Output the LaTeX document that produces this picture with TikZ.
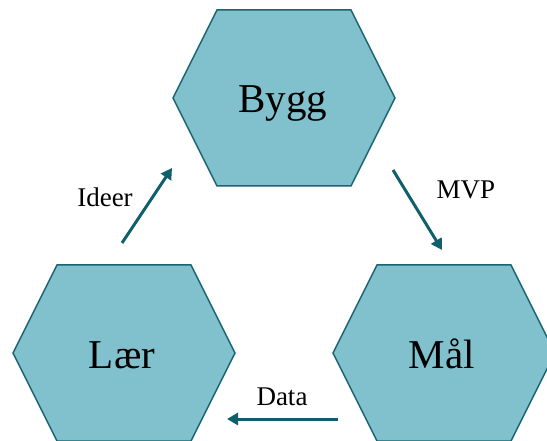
\documentclass[tikz,border=0pt]{standalone}
\usepackage{fontspec}
\setmainfont{Liberation Serif}
\usetikzlibrary{arrows.meta}
\definecolor{hexfill}{RGB}{128,193,205}
\definecolor{hexline}{RGB}{24,100,112}
\definecolor{arrowteal}{RGB}{16,96,108}

\begin{document}
\begin{tikzpicture}[x=1pt,y=-1pt,
hexbox/.style={draw=hexline, fill=hexfill, line width=1.5pt, line join=miter},
hexlabel/.style={font=\fontsize{41}{41}\selectfont, inner sep=0pt, anchor=base},
steplabel/.style={font=\fontsize{27}{27}\selectfont, inner sep=0pt, anchor=base},
steparrow/.style={draw=arrowteal, line width=3pt, -{Triangle[length=11pt,width=12pt]}}
]
    \clip (0,0) rectangle (547,441);

    % hexagons
    \draw[hexbox, shift={(284,98)}] (-111,0) -- (-67,-88) -- (67,-88) -- (111,0) -- (67,88) -- (-67,88) -- cycle;
    \draw[hexbox, shift={(124,353)}] (-111,0) -- (-67,-88) -- (67,-88) -- (111,0) -- (67,88) -- (-67,88) -- cycle;
    \draw[hexbox, shift={(444,353)}] (-111,0) -- (-67,-88) -- (67,-88) -- (111,0) -- (67,88) -- (-67,88) -- cycle;

    \node[hexlabel] (bygg) at (283,113) {Bygg};
    \node[hexlabel] (laer) at (122,368) {Lær};
    \node[hexlabel] (maal) at (442,368) {Mål};

    % arrows
    \coordinate (ideer1) at (122,243);
    \coordinate (ideer2) at (172,168);
    \coordinate (mvp1) at (393,170);
    \coordinate (mvp2) at (442,250);
    \coordinate (data1) at (338,419);
    \coordinate (data2) at (227,419);

    \draw[steparrow] (ideer1) -- (ideer2);
    \draw[steparrow] (mvp1) -- (mvp2);
    \draw[steparrow] (data1) -- (data2);

    \node[steplabel] (ideer) at (105,207) {Ideer};
    \node[steplabel] (mvp) at (466,199) {MVP};
    \node[steplabel] (data) at (282,405) {Data};
\end{tikzpicture}
\end{document}
